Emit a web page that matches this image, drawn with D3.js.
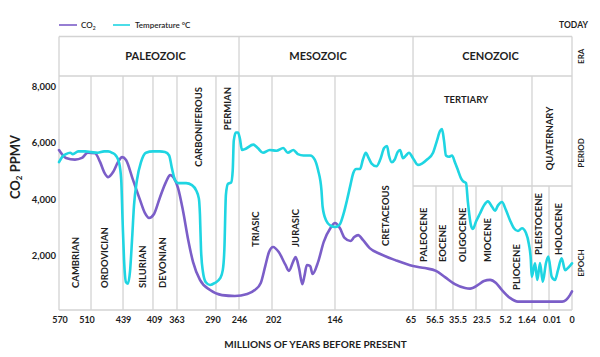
<!DOCTYPE html>
<html><head><meta charset="utf-8">
<script src="https://cdn.jsdelivr.net/npm/d3@7"></script>
<style>
html,body{margin:0;padding:0;background:#fff;}
svg{display:block;font-family:Lato,"Open Sans",sans-serif;}
</style></head><body>
<svg id="chart" width="600" height="357"></svg>
<script>
// ---------- DATA ----------
const boundaries = [570,510,439,409,363,290,246,202,146,65,56.5,35.5,23.5,5.2,1.64,0.01,0];
const tickLabels = ["570","510","439","409","363","290","246","202","146","65","56.5","35.5","23.5","5.2","1.64","0.01","0"];
const yTicks = [2000,4000,6000,8000];

const eras = [
  {name:"PALEOZOIC", from:570, to:246},
  {name:"MESOZOIC", from:246, to:65},
  {name:"CENOZOIC", from:65, to:0}
];
const periods = [
  {name:"CAMBRIAN", from:570, to:510},
  {name:"ORDOVICIAN", from:510, to:439},
  {name:"SILURIAN", from:439, to:409},
  {name:"DEVONIAN", from:409, to:363},
  {name:"CARBONIFEROUS", from:363, to:290},
  {name:"PERMIAN", from:290, to:246},
  {name:"TRIASIC", from:246, to:202},
  {name:"JURASIC", from:202, to:146},
  {name:"CRETACEOUS", from:146, to:65},
  {name:"TERTIARY", from:65, to:1.64},
  {name:"QUATERNARY", from:1.64, to:0}
];
const epochs = [
  {name:"PALEOCENE", from:65, to:56.5},
  {name:"EOCENE", from:56.5, to:35.5},
  {name:"OLIGOCENE", from:35.5, to:23.5},
  {name:"MIOCENE", from:23.5, to:5.2},
  {name:"PLIOCENE", from:5.2, to:1.64},
  {name:"PLEISTOCENE", from:1.64, to:0.01},
  {name:"HOLOCENE", from:0.01, to:0}
];

// CO2 (ppmv) by millions of years before present
const co2Years = [570,557,540,527,516,501,490,481,472,461,450,441,436,429,422,417,413,407,396,384,376,369,361,352,342,333,320,301,278.5,254,235,225,217,211,206,201,196,190,187,183,181,178,175,173,171,168,166,161,156,150,146,141,136,130,126,122,117,110,99,84,65,60.6,56.5,45.4,34.5,29.2,26.6,22.1,17.9,13.6,9.4,5.2,4.25,3.3,1.88,0.01,0.0043,0.0026,0.0009,0];
const co2Values = [5750,5470,5410,5470,5660,5640,5330,4970,4790,4970,5330,5500,5400,4690,3980,3510,3340,3480,4050,4620,4860,4760,4400,3620,2560,1780,1140,780,600,570,640,780,1030,1630,2130,2310,2130,1670,1460,1810,1950,1560,990,1310,1670,1630,1350,1780,2490,2980,3160,2980,2630,2520,2660,2730,2560,2270,2060,1850,1630,1560,1460,1240,990,850,830,960,1100,1140,1030,780,500,370,370,370,370,430,600,730];

// Temperature (°C) by millions of years before present
const tempYears = [570,564,557,549,544,534,521,510,495,481,472,463,455,448,443,440,438,436,434,432,430,428,425,421,416,409,396,386,378,373,367,361,346,335,327,322,320,318,314.5,309,301,292,282,277,274,271,267,261,258,256,252,248,245,242,237,227,221,214,205,198,192,188,183,179,174,168,164,161,158,157,154,150,146,141,137,133.5,130,127,124,120,117,114,111,108,103,99,95,92,90,87,84,81,78.5,75.4,72.3,69.2,65,63.2,61.7,59.8,57.6,55.3,51.6,49.1,46.6,44.2,40.4,36.7,34.5,32.9,31.3,30.3,28.7,27.7,26.1,25.1,23.5,20.7,17.9,15.1,12.2,10.1,8.0,5.2,4.73,4.25,3.78,3.3,2.83,2.35,2.0,1.78,1.67,1.35,1.13,0.87,0.61,0.3,0.076,0.0088,0.0074,0.0061,0.0045,0.003,0.0012,0];
const tempValues = [21.1,21.5,21.7,21.8,21.7,21.9,21.9,21.85,21.8,21.9,21.9,21.8,21.6,21.1,19.8,16.8,13.9,12.2,12.1,13.0,15.3,17.9,19.8,21.1,21.8,21.9,21.9,21.85,21.6,20.7,19.8,19.55,19.55,19.4,19.0,18.4,17.2,14.6,13.0,12.2,12.0,12.15,12.5,13.1,14.6,18.7,19.5,19.6,20.5,22.7,23.3,23.3,22.9,22.0,22.1,22.4,22.15,21.8,22.0,21.95,22.15,21.8,22.0,21.7,21.6,21.6,21.3,20.5,19.0,17.8,16.8,16.4,16.3,16.5,17.3,18.3,19.4,20.3,20.6,20.6,21.3,21.8,21.4,21.0,20.8,21.3,22.15,22.3,21.6,21.1,21.3,21.85,22.0,21.4,21.6,21.8,21.4,20.9,21.0,21.3,21.8,22.7,23.4,23.55,22.7,21.6,21.5,21.6,21.1,20.5,19.9,19.7,19.55,18.1,16.4,16.15,16.7,17.3,17.9,18.2,17.8,17.5,17.9,18.15,17.55,16.8,16.2,16.0,16.2,15.85,15.0,13.9,12.6,13.6,12.37,13.63,12.24,13.63,14.1,12.6,12.37,13.1,13.98,13.1,13.36,13.6];

// ---------- LAYOUT ----------
const W = 600, H = 357;
const L = 59, R = 572, TOP = 36.5, PERIOD_TOP = 76, EPOCH_TOP = 186, BOTTOM = 310;
// relative position of each boundary across the plot width (the original axis is not linear)
const stopFractions = [0,0.0624,0.1248,0.1832,0.2300,0.3060,0.3509,0.4152,0.5380,0.6901,0.7349,0.7680,0.8129,0.8635,0.9220,0.9552,1];
// horizontal nudges of the tick labels, as in the original artwork
const tickNudge = [1,-4,0.5,1.7,0,-3,0.5,1.7,0,-2,-1,5,6,3.5,-5,3,0];
const gridColor = "#d3d3d3", textColor = "#1e1e1e";
const co2Color = "#7b5ec8", tempColor = "#1fd5e2";

const labelLayout = {
  PALEOZOIC:{dx:6.5}, MESOZOIC:{dx:-8}, CENOZOIC:{dx:-2},
  CAMBRIAN:{dx:0.5,y:288,anchor:"start"}, ORDOVICIAN:{dx:-2.3,y:288,anchor:"start"},
  SILURIAN:{dx:4.5,y:288,anchor:"start"}, DEVONIAN:{dx:-2,y:288,anchor:"start"},
  CARBONIFEROUS:{dx:2.5,y:87,anchor:"end"}, PERMIAN:{dx:0.5,y:87,anchor:"end"},
  TRIASIC:{dx:0.5,y:247,anchor:"start"}, JURASIC:{dx:-7.5,y:247,anchor:"start"},
  CRETACEOUS:{dx:12,y:246,anchor:"start"},
  TERTIARY:{dx:-6.5,y:100,horizontal:true}, QUATERNARY:{dx:-2,y:138.5,anchor:"middle"},
  PALEOCENE:{dx:-0.5,y:262,anchor:"start"}, EOCENE:{dx:-1.5,y:262,anchor:"start"},
  OLIGOCENE:{dx:-1.5,y:262,anchor:"start"}, MIOCENE:{dx:-1,y:262,anchor:"start"},
  PLIOCENE:{dx:0,y:290,anchor:"start"}, PLEISTOCENE:{dx:-1.5,y:255,anchor:"start"},
  HOLOCENE:{dx:-1.5,y:255,anchor:"start"}
};

// ---------- SCALES ----------
const x = d3.scaleLinear().domain(boundaries).range(stopFractions.map(f => L + f*(R-L)));
const y = d3.scaleLinear().domain([0,8000]).range([312,86.7]);
const yTemp = d3.scaleLinear().domain([12,22]).range([y(960), y(5750)]);

const svg = d3.select("#chart");
svg.append("rect").attr("width",W).attr("height",H).attr("fill","#fff");

// ---------- GRID ----------
const grid = svg.append("g").attr("stroke",gridColor).attr("stroke-width",1.3).attr("fill","none");
const hl = (y0,x0,x1)=>grid.append("line").attr("x1",x0).attr("x2",x1).attr("y1",y0).attr("y2",y0);
const vl = (xx,y0,y1)=>grid.append("line").attr("x1",xx).attr("x2",xx).attr("y1",y0).attr("y2",y1);
hl(TOP, x(570), x(0));
hl(PERIOD_TOP, x(570), x(0));
hl(EPOCH_TOP, x(65), x(0));
hl(BOTTOM, x(570), x(0));
[570,246,65,0].forEach(b=>vl(x(b),TOP,BOTTOM));
periods.forEach(p=>{ if(![570,246,65,0].includes(p.to)) vl(x(p.to),PERIOD_TOP,BOTTOM); });
epochs.slice(0,-1).forEach(e=>{ if(e.to!==1.64) vl(x(e.to),EPOCH_TOP,BOTTOM); });

// ---------- LABELS ----------
const lab = svg.append("g").attr("fill",textColor).attr("font-weight",700);
eras.forEach(e=>{
  const c = (x(e.from)+x(e.to))/2 + labelLayout[e.name].dx;
  lab.append("text").attr("x",c).attr("y",(TOP+PERIOD_TOP)/2).attr("dy","0.35em")
    .attr("text-anchor","middle").attr("font-size",11).text(e.name);
});
function vText(name, from, to){
  const cfg = labelLayout[name];
  const c = (x(from)+x(to))/2 + cfg.dx;
  if(cfg.horizontal){
    lab.append("text").attr("x",c).attr("y",cfg.y).attr("dy","0.35em")
      .attr("text-anchor","middle").attr("font-size",9.5).text(name);
    return;
  }
  lab.append("text").attr("transform",`translate(${c},${cfg.y}) rotate(-90)`)
    .attr("dy","0.35em").attr("text-anchor",cfg.anchor).attr("font-size",9.5).text(name);
}
periods.forEach(p=>vText(p.name,p.from,p.to));
epochs.forEach(e=>vText(e.name,e.from,e.to));

// row labels on the right
[["ERA",(TOP+PERIOD_TOP)/2],["PERIOD",153],["EPOCH",263]].forEach(([t,cy])=>{
  lab.append("text").attr("transform",`translate(581,${cy}) rotate(-90)`).attr("dy","0.35em")
    .attr("text-anchor","middle").attr("font-size",8).text(t);
});
lab.append("text").attr("x",x(0)+1.5).attr("y",25).attr("dy","0.35em").attr("text-anchor","middle")
  .attr("font-size",8.5).text("TODAY");

// ---------- AXES ----------
const xAxis = svg.append("g");
boundaries.forEach((b,i)=>{
  xAxis.append("text").attr("x",x(b)+tickNudge[i]).attr("y",320).attr("dy","0.35em").attr("text-anchor","middle")
    .attr("font-size",9).attr("font-weight",700).attr("fill",textColor).text(tickLabels[i]);
});
xAxis.append("text").attr("x",(L+R)/2).attr("y",344).attr("dy","0.35em").attr("text-anchor","middle")
  .attr("font-size",10).attr("font-weight",700).attr("fill",textColor).text("MILLIONS OF YEARS BEFORE PRESENT");

const yAxis = svg.append("g");
yTicks.forEach(t=>{
  yAxis.append("text").attr("x",56).attr("y",y(t)).attr("dy","0.35em").attr("text-anchor","end")
    .attr("font-size",9.5).attr("font-weight",700).attr("fill",textColor).text(d3.format(",")(t));
});
const yt = yAxis.append("text").attr("transform","translate(15,167) rotate(-90)").attr("dy","0.35em")
  .attr("text-anchor","middle").attr("font-size",13).attr("font-weight",700).attr("fill",textColor);
yt.append("tspan").text("CO");
yt.append("tspan").attr("font-size",8).attr("baseline-shift","-25%").text("2");
yt.append("tspan").text(" PPMV");

// ---------- LINES ----------
const co2Data = co2Years.map((yr,i)=>({yr, v:co2Values[i]}));
const tempData = tempYears.map((yr,i)=>({yr, v:tempValues[i]}));
svg.append("path").datum(co2Data).attr("fill","none").attr("stroke",co2Color).attr("stroke-width",2.6)
  .attr("stroke-linejoin","round").attr("stroke-linecap","round")
  .attr("d",d3.line().x(d=>x(d.yr)).y(d=>y(d.v)).curve(d3.curveMonotoneX));
svg.append("path").datum(tempData).attr("fill","none").attr("stroke",tempColor).attr("stroke-width",2.6)
  .attr("stroke-linejoin","round").attr("stroke-linecap","round")
  .attr("d",d3.line().x(d=>x(d.yr)).y(d=>yTemp(d.v)).curve(d3.curveMonotoneX));

// ---------- LEGEND ----------
const lg = svg.append("g").attr("font-size",8).attr("font-weight",600).attr("fill",textColor);
lg.append("line").attr("x1",59).attr("x2",77).attr("y1",25).attr("y2",25).attr("stroke",co2Color).attr("stroke-width",1.6);
const lt = lg.append("text").attr("x",81).attr("y",25).attr("dy","0.35em");
lt.append("tspan").text("CO");
lt.append("tspan").attr("font-size",5).attr("baseline-shift","-30%").text("2");
lg.append("line").attr("x1",113).attr("x2",130).attr("y1",25).attr("y2",25).attr("stroke",tempColor).attr("stroke-width",1.6);
lg.append("text").attr("x",135).attr("y",25).attr("dy","0.35em").text("Temperature °C");
</script>
</body></html>
